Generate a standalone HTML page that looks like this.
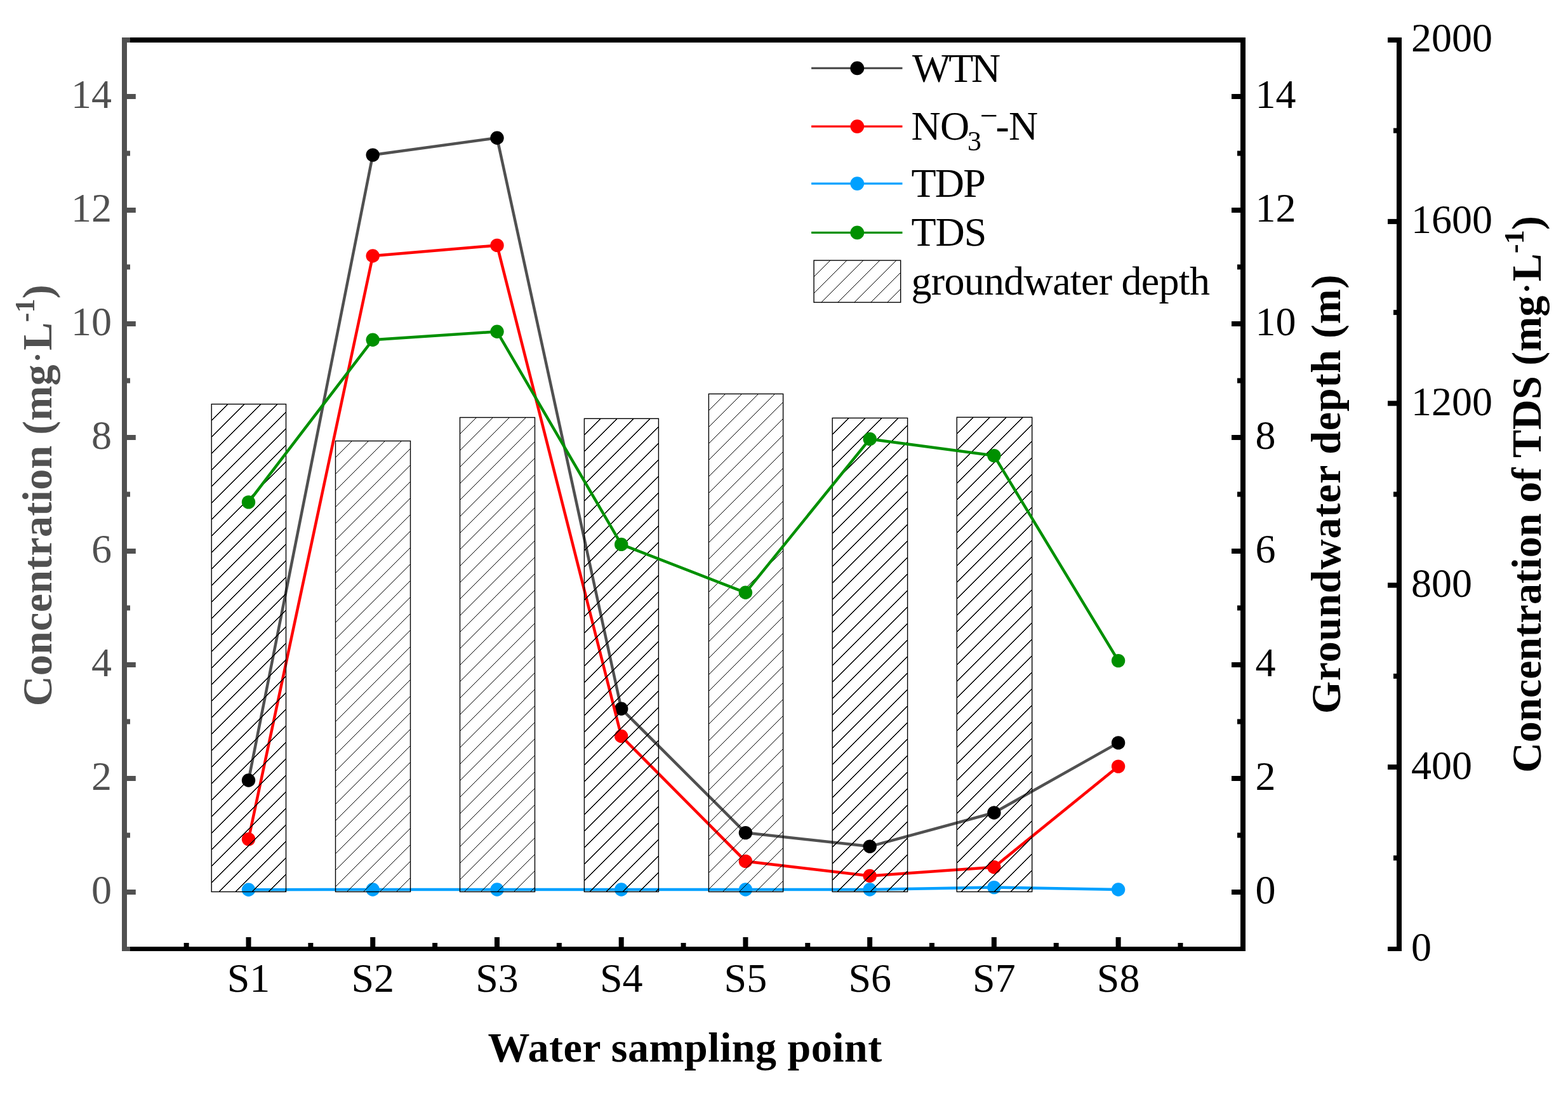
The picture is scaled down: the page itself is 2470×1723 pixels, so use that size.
<!DOCTYPE html>
<html><head><meta charset="utf-8"><title>Water sampling chart</title>
<style>html,body{margin:0;padding:0;background:#fff;overflow:hidden}svg{display:block}text{font-family:"Liberation Serif","Times New Roman",serif}</style>
</head><body>
<svg width="2470" height="1723" viewBox="0 0 2470 1723">
<rect x="0" y="0" width="2470" height="1723" fill="#fff"/>
<polyline points="391.5,1229.0 587.2,244.1 783.0,217.2 978.7,1116.3 1174.4,1311.6 1370.2,1333.1 1565.9,1280.0 1761.6,1169.9" fill="none" stroke="#505050" stroke-width="4.5" stroke-linejoin="round"/>
<circle cx="391.5" cy="1229.0" r="10.7" fill="#000"/>
<circle cx="587.2" cy="244.1" r="10.7" fill="#000"/>
<circle cx="783.0" cy="217.2" r="10.7" fill="#000"/>
<circle cx="978.7" cy="1116.3" r="10.7" fill="#000"/>
<circle cx="1174.4" cy="1311.6" r="10.7" fill="#000"/>
<circle cx="1370.2" cy="1333.1" r="10.7" fill="#000"/>
<circle cx="1565.9" cy="1280.0" r="10.7" fill="#000"/>
<circle cx="1761.6" cy="1169.9" r="10.7" fill="#000"/>
<polyline points="391.5,1321.6 587.2,403.0 783.0,386.4 978.7,1159.5 1174.4,1356.4 1370.2,1379.5 1565.9,1365.7 1761.6,1207.1" fill="none" stroke="#ff0000" stroke-width="4.5" stroke-linejoin="round"/>
<circle cx="391.5" cy="1321.6" r="10.7" fill="#ff0000"/>
<circle cx="587.2" cy="403.0" r="10.7" fill="#ff0000"/>
<circle cx="783.0" cy="386.4" r="10.7" fill="#ff0000"/>
<circle cx="978.7" cy="1159.5" r="10.7" fill="#ff0000"/>
<circle cx="1174.4" cy="1356.4" r="10.7" fill="#ff0000"/>
<circle cx="1370.2" cy="1379.5" r="10.7" fill="#ff0000"/>
<circle cx="1565.9" cy="1365.7" r="10.7" fill="#ff0000"/>
<circle cx="1761.6" cy="1207.1" r="10.7" fill="#ff0000"/>
<polyline points="391.5,1401.3 587.2,1401.0 783.0,1401.0 978.7,1401.0 1174.4,1401.0 1370.2,1401.0 1565.9,1397.6 1761.6,1401.0" fill="none" stroke="#00a0ff" stroke-width="4.5" stroke-linejoin="round"/>
<circle cx="391.5" cy="1401.3" r="10.7" fill="#00a0ff"/>
<circle cx="587.2" cy="1401.0" r="10.7" fill="#00a0ff"/>
<circle cx="783.0" cy="1401.0" r="10.7" fill="#00a0ff"/>
<circle cx="978.7" cy="1401.0" r="10.7" fill="#00a0ff"/>
<circle cx="1174.4" cy="1401.0" r="10.7" fill="#00a0ff"/>
<circle cx="1370.2" cy="1401.0" r="10.7" fill="#00a0ff"/>
<circle cx="1565.9" cy="1397.6" r="10.7" fill="#00a0ff"/>
<circle cx="1761.6" cy="1401.0" r="10.7" fill="#00a0ff"/>
<path d="M333.20 662.50L359.20 636.50M333.20 688.50L385.20 636.50M333.20 714.50L411.20 636.50M333.20 740.50L437.20 636.50M333.20 766.50L450.50 649.20M333.20 792.50L450.50 675.20M333.20 818.50L450.50 701.20M333.20 844.50L450.50 727.20M333.20 870.50L450.50 753.20M333.20 896.50L450.50 779.20M333.20 922.50L450.50 805.20M333.20 948.50L450.50 831.20M333.20 974.50L450.50 857.20M333.20 1000.50L450.50 883.20M333.20 1026.50L450.50 909.20M333.20 1052.50L450.50 935.20M333.20 1078.50L450.50 961.20M333.20 1104.50L450.50 987.20M333.20 1130.50L450.50 1013.20M333.20 1156.50L450.50 1039.20M333.20 1182.50L450.50 1065.20M333.20 1208.50L450.50 1091.20M333.20 1234.50L450.50 1117.20M333.20 1260.50L450.50 1143.20M333.20 1286.50L450.50 1169.20M333.20 1312.50L450.50 1195.20M333.20 1338.50L450.50 1221.20M333.20 1364.50L450.50 1247.20M333.20 1390.50L450.50 1273.20M345.20 1404.50L450.50 1299.20M371.20 1404.50L450.50 1325.20M397.20 1404.50L450.50 1351.20M423.20 1404.50L450.50 1377.20M449.20 1404.50L450.50 1403.20" stroke="#000" stroke-width="1.0" fill="none" shape-rendering="crispEdges"/>
<rect x="333.20" y="636.50" width="117.30" height="768.00" fill="none" stroke="#000" stroke-width="1.4"/>
<path d="M528.50 720.50L554.50 694.50M528.50 746.50L580.50 694.50M528.50 772.50L606.50 694.50M528.50 798.50L632.50 694.50M528.50 824.50L646.50 706.50M528.50 850.50L646.50 732.50M528.50 876.50L646.50 758.50M528.50 902.50L646.50 784.50M528.50 928.50L646.50 810.50M528.50 954.50L646.50 836.50M528.50 980.50L646.50 862.50M528.50 1006.50L646.50 888.50M528.50 1032.50L646.50 914.50M528.50 1058.50L646.50 940.50M528.50 1084.50L646.50 966.50M528.50 1110.50L646.50 992.50M528.50 1136.50L646.50 1018.50M528.50 1162.50L646.50 1044.50M528.50 1188.50L646.50 1070.50M528.50 1214.50L646.50 1096.50M528.50 1240.50L646.50 1122.50M528.50 1266.50L646.50 1148.50M528.50 1292.50L646.50 1174.50M528.50 1318.50L646.50 1200.50M528.50 1344.50L646.50 1226.50M528.50 1370.50L646.50 1252.50M528.50 1396.50L646.50 1278.50M546.50 1404.50L646.50 1304.50M572.50 1404.50L646.50 1330.50M598.50 1404.50L646.50 1356.50M624.50 1404.50L646.50 1382.50" stroke="#000" stroke-width="1.0" fill="none" shape-rendering="crispEdges"/>
<rect x="528.50" y="694.50" width="118.00" height="710.00" fill="none" stroke="#000" stroke-width="1.4"/>
<path d="M724.50 683.50L750.50 657.50M724.50 709.50L776.50 657.50M724.50 735.50L802.50 657.50M724.50 761.50L828.50 657.50M724.50 787.50L842.50 669.50M724.50 813.50L842.50 695.50M724.50 839.50L842.50 721.50M724.50 865.50L842.50 747.50M724.50 891.50L842.50 773.50M724.50 917.50L842.50 799.50M724.50 943.50L842.50 825.50M724.50 969.50L842.50 851.50M724.50 995.50L842.50 877.50M724.50 1021.50L842.50 903.50M724.50 1047.50L842.50 929.50M724.50 1073.50L842.50 955.50M724.50 1099.50L842.50 981.50M724.50 1125.50L842.50 1007.50M724.50 1151.50L842.50 1033.50M724.50 1177.50L842.50 1059.50M724.50 1203.50L842.50 1085.50M724.50 1229.50L842.50 1111.50M724.50 1255.50L842.50 1137.50M724.50 1281.50L842.50 1163.50M724.50 1307.50L842.50 1189.50M724.50 1333.50L842.50 1215.50M724.50 1359.50L842.50 1241.50M724.50 1385.50L842.50 1267.50M731.50 1404.50L842.50 1293.50M757.50 1404.50L842.50 1319.50M783.50 1404.50L842.50 1345.50M809.50 1404.50L842.50 1371.50M835.50 1404.50L842.50 1397.50" stroke="#000" stroke-width="1.0" fill="none" shape-rendering="crispEdges"/>
<rect x="724.50" y="657.50" width="118.00" height="747.00" fill="none" stroke="#000" stroke-width="1.4"/>
<path d="M920.40 685.30L946.40 659.30M920.40 711.30L972.40 659.30M920.40 737.30L998.40 659.30M920.40 763.30L1024.40 659.30M920.40 789.30L1037.40 672.30M920.40 815.30L1037.40 698.30M920.40 841.30L1037.40 724.30M920.40 867.30L1037.40 750.30M920.40 893.30L1037.40 776.30M920.40 919.30L1037.40 802.30M920.40 945.30L1037.40 828.30M920.40 971.30L1037.40 854.30M920.40 997.30L1037.40 880.30M920.40 1023.30L1037.40 906.30M920.40 1049.30L1037.40 932.30M920.40 1075.30L1037.40 958.30M920.40 1101.30L1037.40 984.30M920.40 1127.30L1037.40 1010.30M920.40 1153.30L1037.40 1036.30M920.40 1179.30L1037.40 1062.30M920.40 1205.30L1037.40 1088.30M920.40 1231.30L1037.40 1114.30M920.40 1257.30L1037.40 1140.30M920.40 1283.30L1037.40 1166.30M920.40 1309.30L1037.40 1192.30M920.40 1335.30L1037.40 1218.30M920.40 1361.30L1037.40 1244.30M920.40 1387.30L1037.40 1270.30M929.20 1404.50L1037.40 1296.30M955.20 1404.50L1037.40 1322.30M981.20 1404.50L1037.40 1348.30M1007.20 1404.50L1037.40 1374.30M1033.20 1404.50L1037.40 1400.30" stroke="#000" stroke-width="1.0" fill="none" shape-rendering="crispEdges"/>
<rect x="920.40" y="659.30" width="117.00" height="745.20" fill="none" stroke="#000" stroke-width="1.4"/>
<path d="M1116.40 646.40L1142.40 620.40M1116.40 672.40L1168.40 620.40M1116.40 698.40L1194.40 620.40M1116.40 724.40L1220.40 620.40M1116.40 750.40L1233.60 633.20M1116.40 776.40L1233.60 659.20M1116.40 802.40L1233.60 685.20M1116.40 828.40L1233.60 711.20M1116.40 854.40L1233.60 737.20M1116.40 880.40L1233.60 763.20M1116.40 906.40L1233.60 789.20M1116.40 932.40L1233.60 815.20M1116.40 958.40L1233.60 841.20M1116.40 984.40L1233.60 867.20M1116.40 1010.40L1233.60 893.20M1116.40 1036.40L1233.60 919.20M1116.40 1062.40L1233.60 945.20M1116.40 1088.40L1233.60 971.20M1116.40 1114.40L1233.60 997.20M1116.40 1140.40L1233.60 1023.20M1116.40 1166.40L1233.60 1049.20M1116.40 1192.40L1233.60 1075.20M1116.40 1218.40L1233.60 1101.20M1116.40 1244.40L1233.60 1127.20M1116.40 1270.40L1233.60 1153.20M1116.40 1296.40L1233.60 1179.20M1116.40 1322.40L1233.60 1205.20M1116.40 1348.40L1233.60 1231.20M1116.40 1374.40L1233.60 1257.20M1116.40 1400.40L1233.60 1283.20M1138.30 1404.50L1233.60 1309.20M1164.30 1404.50L1233.60 1335.20M1190.30 1404.50L1233.60 1361.20M1216.30 1404.50L1233.60 1387.20" stroke="#000" stroke-width="1.0" fill="none" shape-rendering="crispEdges"/>
<rect x="1116.40" y="620.40" width="117.20" height="784.10" fill="none" stroke="#000" stroke-width="1.4"/>
<path d="M1311.20 684.40L1337.20 658.40M1311.20 710.40L1363.20 658.40M1311.20 736.40L1389.20 658.40M1311.20 762.40L1415.20 658.40M1311.20 788.40L1429.60 670.00M1311.20 814.40L1429.60 696.00M1311.20 840.40L1429.60 722.00M1311.20 866.40L1429.60 748.00M1311.20 892.40L1429.60 774.00M1311.20 918.40L1429.60 800.00M1311.20 944.40L1429.60 826.00M1311.20 970.40L1429.60 852.00M1311.20 996.40L1429.60 878.00M1311.20 1022.40L1429.60 904.00M1311.20 1048.40L1429.60 930.00M1311.20 1074.40L1429.60 956.00M1311.20 1100.40L1429.60 982.00M1311.20 1126.40L1429.60 1008.00M1311.20 1152.40L1429.60 1034.00M1311.20 1178.40L1429.60 1060.00M1311.20 1204.40L1429.60 1086.00M1311.20 1230.40L1429.60 1112.00M1311.20 1256.40L1429.60 1138.00M1311.20 1282.40L1429.60 1164.00M1311.20 1308.40L1429.60 1190.00M1311.20 1334.40L1429.60 1216.00M1311.20 1360.40L1429.60 1242.00M1311.20 1386.40L1429.60 1268.00M1319.10 1404.50L1429.60 1294.00M1345.10 1404.50L1429.60 1320.00M1371.10 1404.50L1429.60 1346.00M1397.10 1404.50L1429.60 1372.00M1423.10 1404.50L1429.60 1398.00" stroke="#000" stroke-width="1.0" fill="none" shape-rendering="crispEdges"/>
<rect x="1311.20" y="658.40" width="118.40" height="746.10" fill="none" stroke="#000" stroke-width="1.4"/>
<path d="M1507.30 683.20L1533.30 657.20M1507.30 709.20L1559.30 657.20M1507.30 735.20L1585.30 657.20M1507.30 761.20L1611.30 657.20M1507.30 787.20L1625.70 668.80M1507.30 813.20L1625.70 694.80M1507.30 839.20L1625.70 720.80M1507.30 865.20L1625.70 746.80M1507.30 891.20L1625.70 772.80M1507.30 917.20L1625.70 798.80M1507.30 943.20L1625.70 824.80M1507.30 969.20L1625.70 850.80M1507.30 995.20L1625.70 876.80M1507.30 1021.20L1625.70 902.80M1507.30 1047.20L1625.70 928.80M1507.30 1073.20L1625.70 954.80M1507.30 1099.20L1625.70 980.80M1507.30 1125.20L1625.70 1006.80M1507.30 1151.20L1625.70 1032.80M1507.30 1177.20L1625.70 1058.80M1507.30 1203.20L1625.70 1084.80M1507.30 1229.20L1625.70 1110.80M1507.30 1255.20L1625.70 1136.80M1507.30 1281.20L1625.70 1162.80M1507.30 1307.20L1625.70 1188.80M1507.30 1333.20L1625.70 1214.80M1507.30 1359.20L1625.70 1240.80M1507.30 1385.20L1625.70 1266.80M1514.00 1404.50L1625.70 1292.80M1540.00 1404.50L1625.70 1318.80M1566.00 1404.50L1625.70 1344.80M1592.00 1404.50L1625.70 1370.80M1618.00 1404.50L1625.70 1396.80" stroke="#000" stroke-width="1.0" fill="none" shape-rendering="crispEdges"/>
<rect x="1507.30" y="657.20" width="118.40" height="747.30" fill="none" stroke="#000" stroke-width="1.4"/>
<polyline points="391.5,790.9 587.2,535.2 783.0,522.3 978.7,857.4 1174.4,933.3 1370.2,691.4 1565.9,717.6 1761.6,1040.6" fill="none" stroke="#009000" stroke-width="4.5" stroke-linejoin="round"/>
<circle cx="391.5" cy="790.9" r="10.7" fill="#009000"/>
<circle cx="587.2" cy="535.2" r="10.7" fill="#009000"/>
<circle cx="783.0" cy="522.3" r="10.7" fill="#009000"/>
<circle cx="978.7" cy="857.4" r="10.7" fill="#009000"/>
<circle cx="1174.4" cy="933.3" r="10.7" fill="#009000"/>
<circle cx="1370.2" cy="691.4" r="10.7" fill="#009000"/>
<circle cx="1565.9" cy="717.6" r="10.7" fill="#009000"/>
<circle cx="1761.6" cy="1040.6" r="10.7" fill="#009000"/>
<rect x="192" y="59" width="8" height="1439" fill="#505050"/>
<rect x="205" y="59" width="1757" height="8" fill="#000"/>
<rect x="205" y="1491" width="1757" height="7" fill="#000"/>
<rect x="192" y="59" width="13" height="8" fill="#505050"/>
<rect x="192" y="1491" width="13" height="7" fill="#505050"/>
<rect x="1954" y="59" width="8" height="1439" fill="#000"/>
<rect x="200" y="1401.00" width="13.8" height="8" fill="#505050"/>
<rect x="200" y="1311.50" width="5" height="8" fill="#505050"/>
<rect x="200" y="1222.00" width="13.8" height="8" fill="#505050"/>
<rect x="200" y="1132.50" width="5" height="8" fill="#505050"/>
<rect x="200" y="1043.00" width="13.8" height="8" fill="#505050"/>
<rect x="200" y="953.50" width="5" height="8" fill="#505050"/>
<rect x="200" y="864.00" width="13.8" height="8" fill="#505050"/>
<rect x="200" y="774.50" width="5" height="8" fill="#505050"/>
<rect x="200" y="685.00" width="13.8" height="8" fill="#505050"/>
<rect x="200" y="595.50" width="5" height="8" fill="#505050"/>
<rect x="200" y="506.00" width="13.8" height="8" fill="#505050"/>
<rect x="200" y="416.50" width="5" height="8" fill="#505050"/>
<rect x="200" y="327.00" width="13.8" height="8" fill="#505050"/>
<rect x="200" y="237.50" width="5" height="8" fill="#505050"/>
<rect x="200" y="148.00" width="13.8" height="8" fill="#505050"/>
<rect x="1940" y="1401.00" width="14" height="8" fill="#000"/>
<rect x="1949" y="1311.50" width="5" height="8" fill="#000"/>
<rect x="1940" y="1222.00" width="14" height="8" fill="#000"/>
<rect x="1949" y="1132.50" width="5" height="8" fill="#000"/>
<rect x="1940" y="1043.00" width="14" height="8" fill="#000"/>
<rect x="1949" y="953.50" width="5" height="8" fill="#000"/>
<rect x="1940" y="864.00" width="14" height="8" fill="#000"/>
<rect x="1949" y="774.50" width="5" height="8" fill="#000"/>
<rect x="1940" y="685.00" width="14" height="8" fill="#000"/>
<rect x="1949" y="595.50" width="5" height="8" fill="#000"/>
<rect x="1940" y="506.00" width="14" height="8" fill="#000"/>
<rect x="1949" y="416.50" width="5" height="8" fill="#000"/>
<rect x="1940" y="327.00" width="14" height="8" fill="#000"/>
<rect x="1949" y="237.50" width="5" height="8" fill="#000"/>
<rect x="1940" y="148.00" width="14" height="8" fill="#000"/>
<rect x="387.50" y="1476" width="8" height="15" fill="#000"/>
<rect x="583.23" y="1476" width="8" height="15" fill="#000"/>
<rect x="778.96" y="1476" width="8" height="15" fill="#000"/>
<rect x="974.69" y="1476" width="8" height="15" fill="#000"/>
<rect x="1170.42" y="1476" width="8" height="15" fill="#000"/>
<rect x="1366.15" y="1476" width="8" height="15" fill="#000"/>
<rect x="1561.88" y="1476" width="8" height="15" fill="#000"/>
<rect x="1757.61" y="1476" width="8" height="15" fill="#000"/>
<rect x="289.63" y="1485" width="8" height="6" fill="#000"/>
<rect x="485.37" y="1485" width="8" height="6" fill="#000"/>
<rect x="681.10" y="1485" width="8" height="6" fill="#000"/>
<rect x="876.83" y="1485" width="8" height="6" fill="#000"/>
<rect x="1072.55" y="1485" width="8" height="6" fill="#000"/>
<rect x="1268.28" y="1485" width="8" height="6" fill="#000"/>
<rect x="1464.01" y="1485" width="8" height="6" fill="#000"/>
<rect x="1659.74" y="1485" width="8" height="6" fill="#000"/>
<rect x="1855.47" y="1485" width="8" height="6" fill="#000"/>
<rect x="2200" y="59" width="8" height="1439" fill="#000"/>
<rect x="2186" y="1491" width="14" height="7" fill="#000"/>
<rect x="2195" y="1347.30" width="5" height="8" fill="#000"/>
<rect x="2186" y="1204.10" width="14" height="8" fill="#000"/>
<rect x="2195" y="1060.90" width="5" height="8" fill="#000"/>
<rect x="2186" y="917.70" width="14" height="8" fill="#000"/>
<rect x="2195" y="774.50" width="5" height="8" fill="#000"/>
<rect x="2186" y="631.30" width="14" height="8" fill="#000"/>
<rect x="2195" y="488.10" width="5" height="8" fill="#000"/>
<rect x="2186" y="344.90" width="14" height="8" fill="#000"/>
<rect x="2195" y="201.70" width="5" height="8" fill="#000"/>
<rect x="2186" y="59" width="14" height="8" fill="#000"/>
<text x="176" y="1423.4" font-size="64" fill="#505050" text-anchor="end">0</text>
<text x="176" y="1244.4" font-size="64" fill="#505050" text-anchor="end">2</text>
<text x="176" y="1065.4" font-size="64" fill="#505050" text-anchor="end">4</text>
<text x="176" y="886.4" font-size="64" fill="#505050" text-anchor="end">6</text>
<text x="176" y="707.4" font-size="64" fill="#505050" text-anchor="end">8</text>
<text x="176" y="528.4" font-size="64" fill="#505050" text-anchor="end">10</text>
<text x="176" y="349.4" font-size="64" fill="#505050" text-anchor="end">12</text>
<text x="176" y="170.4" font-size="64" fill="#505050" text-anchor="end">14</text>
<text x="1977.5" y="1423.4" font-size="64" fill="#000">0</text>
<text x="1977.5" y="1244.4" font-size="64" fill="#000">2</text>
<text x="1977.5" y="1065.4" font-size="64" fill="#000">4</text>
<text x="1977.5" y="886.4" font-size="64" fill="#000">6</text>
<text x="1977.5" y="707.4" font-size="64" fill="#000">8</text>
<text x="1977.5" y="528.4" font-size="64" fill="#000">10</text>
<text x="1977.5" y="349.4" font-size="64" fill="#000">12</text>
<text x="1977.5" y="170.4" font-size="64" fill="#000">14</text>
<text x="2223" y="1513.0" font-size="64" fill="#000">0</text>
<text x="2223" y="1226.6" font-size="64" fill="#000">400</text>
<text x="2223" y="940.2" font-size="64" fill="#000">800</text>
<text x="2223" y="653.8" font-size="64" fill="#000">1200</text>
<text x="2223" y="367.4" font-size="64" fill="#000">1600</text>
<text x="2223" y="81.0" font-size="64" fill="#000">2000</text>
<text x="391.5" y="1561.6" font-size="64" fill="#000" text-anchor="middle">S1</text>
<text x="587.2" y="1561.6" font-size="64" fill="#000" text-anchor="middle">S2</text>
<text x="783.0" y="1561.6" font-size="64" fill="#000" text-anchor="middle">S3</text>
<text x="978.7" y="1561.6" font-size="64" fill="#000" text-anchor="middle">S4</text>
<text x="1174.4" y="1561.6" font-size="64" fill="#000" text-anchor="middle">S5</text>
<text x="1370.2" y="1561.6" font-size="64" fill="#000" text-anchor="middle">S6</text>
<text x="1565.9" y="1561.6" font-size="64" fill="#000" text-anchor="middle">S7</text>
<text x="1761.6" y="1561.6" font-size="64" fill="#000" text-anchor="middle">S8</text>
<text x="1079.2" y="1671.6" font-size="66" font-weight="bold" fill="#000" text-anchor="middle" letter-spacing="0.5">Water sampling point</text>
<text transform="translate(80.5,780) rotate(-90)" font-size="66" font-weight="bold" fill="#505050" text-anchor="middle" letter-spacing="0.28">Concentration (mg<tspan font-weight="normal">·</tspan>L<tspan font-size="44" dy="-27">-1</tspan><tspan dy="27">)</tspan></text>
<text transform="translate(2111,778) rotate(-90)" font-size="66" font-weight="bold" fill="#000" text-anchor="middle" letter-spacing="0.8">Groundwater depth (m)</text>
<text transform="translate(2427,778.5) rotate(-90)" font-size="66" font-weight="bold" fill="#000" text-anchor="middle" letter-spacing="0.13">Concentration of TDS (mg<tspan font-weight="normal">·</tspan>L<tspan font-size="44" dy="-27">-1</tspan><tspan dy="27">)</tspan></text>
<line x1="1278.1" y1="107.4" x2="1421.5" y2="107.4" stroke="#505050" stroke-width="3.2"/>
<circle cx="1350.3" cy="107.4" r="10.9" fill="#000"/>
<text x="1437.0" y="129" font-size="64" fill="#000" letter-spacing="-3.2">WTN</text>
<line x1="1278.1" y1="199.1" x2="1421.5" y2="199.1" stroke="#ff0000" stroke-width="3.2"/>
<circle cx="1350.3" cy="199.1" r="10.9" fill="#ff0000"/>
<text x="1435.5" y="219.5" font-size="64" fill="#000" letter-spacing="-0.8">NO<tspan x="1524" dy="17" font-size="44">3</tspan><tspan x="1543.5" dy="-38" font-size="50">−</tspan><tspan x="1568.5" dy="21">-N</tspan></text>
<line x1="1278.1" y1="289.1" x2="1421.5" y2="289.1" stroke="#00a0ff" stroke-width="3.2"/>
<circle cx="1350.3" cy="289.1" r="10.9" fill="#00a0ff"/>
<text x="1435.5" y="309.7" font-size="64" fill="#000" letter-spacing="-1.75">TDP</text>
<line x1="1278.1" y1="366.4" x2="1421.5" y2="366.4" stroke="#009000" stroke-width="3.2"/>
<circle cx="1350.3" cy="366.4" r="10.9" fill="#009000"/>
<text x="1435.5" y="387.0" font-size="64" fill="#000" letter-spacing="-1.0">TDS</text>
<path d="M1282.10 436.10L1308.10 410.10M1282.10 462.10L1334.10 410.10M1294.00 476.20L1360.10 410.10M1320.00 476.20L1386.10 410.10M1346.00 476.20L1412.10 410.10M1372.00 476.20L1418.70 429.50M1398.00 476.20L1418.70 455.50" stroke="#000" stroke-width="1.0" fill="none" shape-rendering="crispEdges"/>
<rect x="1282.10" y="410.10" width="136.60" height="66.10" fill="none" stroke="#000" stroke-width="1.4"/>
<text x="1435.5" y="463.9" font-size="64" fill="#000" letter-spacing="-0.7">groundwater depth</text>
</svg>
</body></html>
